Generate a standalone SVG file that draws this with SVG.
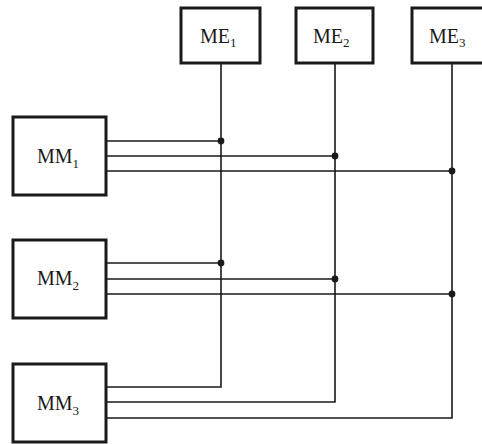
<svg xmlns="http://www.w3.org/2000/svg" width="482" height="444" viewBox="0 0 482 444">
<style>
.box{fill:#fff;stroke:#1a1a1a;stroke-width:3}
.lbl{font-family:"Liberation Serif","Times New Roman",serif;font-size:20px;fill:#1a1a1a}
.sub{font-size:13px}
.wire{fill:none;stroke:#1a1a1a;stroke-width:1.6}
.dot{fill:#1a1a1a}
</style>
<rect width="482" height="444" fill="#fff"/>
<g id="connectors">
<path class="wire" d="M221,63 V387 H106"/>
<path class="wire" d="M335,63 V402 H106"/>
<path class="wire" d="M452,63 V418 H106"/>
<path class="wire" d="M106,141 H221 M106,156 H335 M106,171 H452"/>
<path class="wire" d="M106,263 H221 M106,279 H335 M106,294 H452"/>
<circle class="dot" cx="221" cy="141" r="3.4"/>
<circle class="dot" cx="335" cy="156" r="3.4"/>
<circle class="dot" cx="452" cy="171" r="3.4"/>
<circle class="dot" cx="221" cy="263" r="3.4"/>
<circle class="dot" cx="335" cy="279" r="3.4"/>
<circle class="dot" cx="452" cy="294" r="3.4"/>
</g>
<g id="ME1"><rect class="box" x="181" y="8" width="79" height="55"/><text class="lbl" x="200" y="43">ME<tspan class="sub" dy="4">1</tspan></text></g>
<g id="ME2"><rect class="box" x="296" y="8" width="77" height="55"/><text class="lbl" x="313" y="43">ME<tspan class="sub" dy="4">2</tspan></text></g>
<g id="ME3"><rect class="box" x="412" y="8" width="78" height="55"/><text class="lbl" x="429" y="43">ME<tspan class="sub" dy="4">3</tspan></text></g>
<g id="MM1"><rect class="box" x="13" y="117" width="93" height="78"/><text class="lbl" x="37" y="163">MM<tspan class="sub" dy="5">1</tspan></text></g>
<g id="MM2"><rect class="box" x="13" y="240" width="93" height="78"/><text class="lbl" x="37" y="285">MM<tspan class="sub" dy="5">2</tspan></text></g>
<g id="MM3"><rect class="box" x="13" y="364" width="93" height="78"/><text class="lbl" x="37" y="410">MM<tspan class="sub" dy="5">3</tspan></text></g>
</svg>
